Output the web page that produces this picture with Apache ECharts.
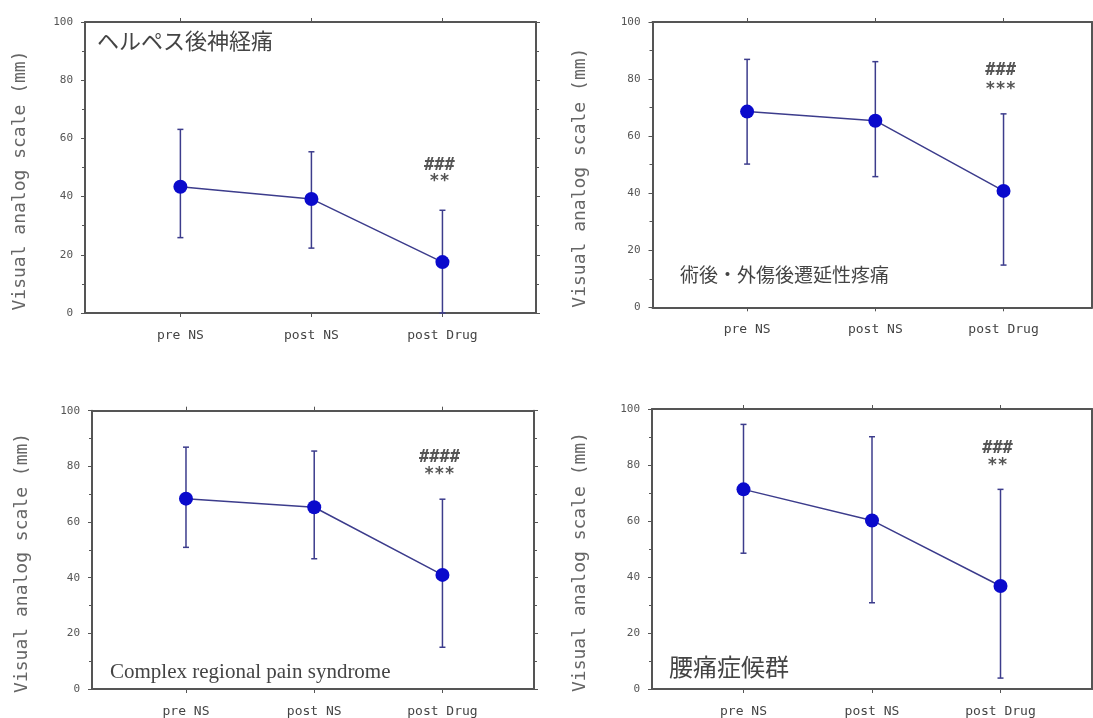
<!DOCTYPE html>
<html>
<head>
<meta charset="utf-8">
<script src="https://cdn.jsdelivr.net/npm/echarts@6/dist/echarts.min.js"></script>
<style>html,body{margin:0;padding:0;background:#fff}#c{width:1093px;height:718px}</style>
</head>
<body>
<div id="c"></div>
<script>
// ---- data ----
const categories = ['pre NS', 'post NS', 'post Drug'];
const yAxisName = 'Visual analog scale (mm)';
const titles = ['ヘルペス後神経痛', '術後・外傷後遷延性疼痛', 'Complex regional pain syndrome', '腰痛症候群'];

const meanP1 = [43.4, 39.2, 17.5];
const upperP1 = [63.1, 55.4, 35.3];
const lowerP1 = [25.9, 22.3, 0];
const marksP1 = ['###', '**'];
const markYP1 = [50.8, 45.0];

const meanP2 = [68.6, 65.4, 40.8];
const upperP2 = [86.9, 86.1, 67.8];
const lowerP2 = [50.2, 45.8, 14.8];
const marksP2 = ['###', '***'];
const markYP2 = [82.9, 76.4];

const meanP3 = [68.4, 65.3, 41.0];
const upperP3 = [86.9, 85.5, 68.2];
const lowerP3 = [50.9, 46.8, 15.0];
const marksP3 = ['####', '***'];
const markYP3 = [83.2, 76.9];

const meanP4 = [71.3, 60.2, 36.8];
const upperP4 = [94.5, 90.1, 71.3];
const lowerP4 = [48.5, 30.8, 3.9];
const marksP4 = ['###', '**'];
const markYP4 = [85.7, 79.8];

const panels = [
  {mean: meanP1, up: upperP1, lo: lowerP1, marks: marksP1, markY: markYP1},
  {mean: meanP2, up: upperP2, lo: lowerP2, marks: marksP2, markY: markYP2},
  {mean: meanP3, up: upperP3, lo: lowerP3, marks: marksP3, markY: markYP3},
  {mean: meanP4, up: upperP4, lo: lowerP4, marks: marksP4, markY: markYP4}
];

// ---- layout ----
const layout = [
  {left: 85, top: 22, width: 451, height: 291, xmin: -0.728, xmax: 2.714, nameGap: 56},
  {left: 652.5, top: 22, width: 439.5, height: 285.3, xmin: -0.738, xmax: 2.69, nameGap: 63},
  {left: 92, top: 410.7, width: 442, height: 288.3, xmin: -0.733, xmax: 2.714, nameGap: 61},
  {left: 652, top: 409, width: 440, height: 285, xmin: -0.712, xmax: 2.712, nameGap: 63}
];
const titlePos = [
  {left: 97, top: 30, font: 'Noto Sans CJK JP', size: 22},
  {left: 680, top: 265, font: 'Noto Sans CJK JP', size: 19},
  {left: 110, top: 662, font: 'Liberation Serif', size: 21},
  {left: 669, top: 655, font: 'Noto Sans CJK JP', size: 24}
];

const frameColor = '#555';
const textColor = '#555';
const lineColor = '#3c3c8c';
const markerColor = '#0a0acc';
const mono = 'DejaVu Sans Mono';

const grid = [], xAxis = [], yAxis = [], series = [], title = [];
const catIdx = categories.map((c, i) => i);

layout.forEach((L, k) => {
  grid.push({left: L.left, top: L.top, width: L.width, height: L.height, containLabel: false});
  const axLine = {show: true, onZero: false, lineStyle: {color: frameColor, width: 2}};
  // bottom x axis
  xAxis.push({
    type: 'value', gridIndex: k, min: L.xmin, max: L.xmax, position: 'bottom',
    axisLine: axLine,
    axisTick: {show: true, customValues: catIdx, length: 4, lineStyle: {color: frameColor}},
    axisLabel: {customValues: catIdx, formatter: v => categories[Math.round(v)], color: '#444',
      fontFamily: mono, fontSize: 13, margin: 16},
    splitLine: {show: false}
  });
  // top x axis
  xAxis.push({
    type: 'value', gridIndex: k, min: L.xmin, max: L.xmax, position: 'top',
    axisLine: axLine,
    axisTick: {show: true, customValues: catIdx, length: 4, lineStyle: {color: frameColor}},
    axisLabel: {show: false},
    splitLine: {show: false}
  });
  // left y axis
  yAxis.push({
    type: 'value', gridIndex: k, min: 0, max: 100, interval: 20, position: 'left',
    name: yAxisName, nameLocation: 'middle', nameGap: L.nameGap, nameRotate: 90,
    nameTextStyle: {color: '#666', fontFamily: mono, fontSize: 18, padding: [0, 26, 0, 0]},
    axisLine: axLine,
    axisTick: {show: true, length: 4, lineStyle: {color: frameColor}},
    minorTick: {show: true, splitNumber: 2, length: 3, lineStyle: {color: frameColor}},
    axisLabel: {color: textColor, fontFamily: mono, fontSize: 11, margin: 12},
    splitLine: {show: false}
  });
  // right y axis
  yAxis.push({
    type: 'value', gridIndex: k, min: 0, max: 100, interval: 20, position: 'right',
    axisLine: axLine,
    axisTick: {show: true, length: 4, lineStyle: {color: frameColor}},
    minorTick: {show: true, splitNumber: 2, length: 3, lineStyle: {color: frameColor}},
    axisLabel: {show: false},
    splitLine: {show: false}
  });

  const P = panels[k];
  // error bars
  series.push({
    type: 'custom', xAxisIndex: 2 * k, yAxisIndex: 2 * k, z: 2, silent: true,
    data: P.mean.map((m, i) => [i, P.lo[i], P.up[i]]),
    renderItem: (params, api) => {
      const x = api.value(0);
      const pTop = api.coord([x, api.value(2)]);
      const pBot = api.coord([x, api.value(1)]);
      const w = 3;
      const st = {stroke: lineColor, lineWidth: 1.5};
      return {type: 'group', children: [
        {type: 'line', shape: {x1: pTop[0], y1: pTop[1], x2: pBot[0], y2: pBot[1]}, style: st},
        {type: 'line', shape: {x1: pTop[0] - w, y1: pTop[1], x2: pTop[0] + w, y2: pTop[1]}, style: st},
        {type: 'line', shape: {x1: pBot[0] - w, y1: pBot[1], x2: pBot[0] + w, y2: pBot[1]}, style: st}
      ]};
    }
  });
  // mean line with markers
  series.push({
    type: 'line', xAxisIndex: 2 * k, yAxisIndex: 2 * k, z: 3, silent: true,
    data: P.mean.map((m, i) => [i, m]),
    symbol: 'circle', symbolSize: 14,
    itemStyle: {color: markerColor},
    lineStyle: {color: lineColor, width: 1.5}
  });
  // significance marks
  series.push({
    type: 'custom', xAxisIndex: 2 * k, yAxisIndex: 2 * k, z: 4, silent: true,
    data: P.marks.map((t, i) => [2, P.markY[i], t]),
    renderItem: (params, api) => {
      const p = api.coord([api.value(0), api.value(1)]);
      const t = P.marks[params.dataIndex];
      return {type: 'text', x: p[0] - 3, y: p[1], style: {
        text: t, fill: '#555', font: 'bold 17px "DejaVu Sans Mono"', align: 'center', verticalAlign: 'middle'}};
    }
  });

  const T = titlePos[k];
  title.push({text: titles[k], left: T.left, top: T.top, padding: 0,
    textStyle: {color: '#444', fontFamily: T.font, fontSize: T.size, fontWeight: 'normal'}});
});

const chart = echarts.init(document.getElementById('c'), null, {renderer: 'canvas'});
chart.setOption({animation: false, backgroundColor: '#fff', title, grid, xAxis, yAxis, series});
</script>
</body>
</html>
